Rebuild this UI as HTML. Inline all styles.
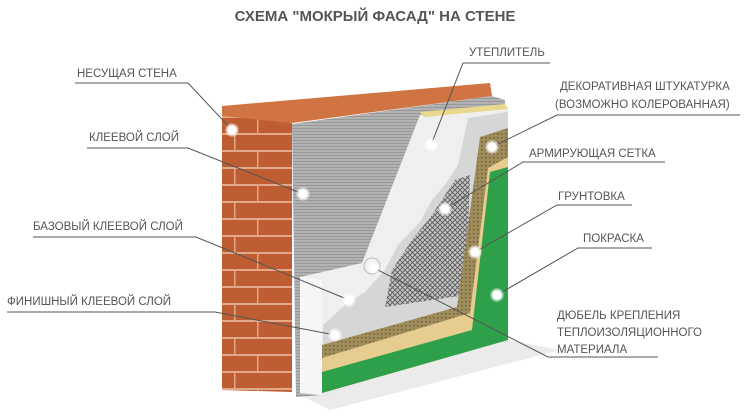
<!DOCTYPE html>
<html><head><meta charset="utf-8"><style>
html,body{margin:0;padding:0;background:#fff;}
svg{display:block;}
text{font-family:"Liberation Sans",sans-serif;fill:#555;}
</style></head><body>
<svg width="750" height="415" viewBox="0 0 750 415" xmlns="http://www.w3.org/2000/svg">
<defs>
<pattern id="brick" width="70" height="34" patternUnits="userSpaceOnUse" x="222" y="118">
<rect width="70" height="34" fill="#bd5d31"/>
<rect y="15" width="70" height="2" fill="#e2a88a"/>
<rect y="32" width="70" height="2" fill="#e2a88a"/>
<rect x="35" y="0" width="1.5" height="15" fill="#e2a88a"/>
<rect x="12" y="17" width="1.5" height="15" fill="#e2a88a"/>
</pattern>
<pattern id="glue" width="6" height="3" patternUnits="userSpaceOnUse">
<rect width="6" height="3" fill="#b2b2b2"/>
<rect y="2" width="6" height="1" fill="#989898"/>
</pattern>
<pattern id="mesh" width="5" height="5" patternUnits="userSpaceOnUse">
<rect width="5" height="5" fill="#c4c4c4"/>
<path d="M0 0L5 5M5 0L0 5" stroke="#555" stroke-width="0.8"/>
</pattern>
<pattern id="plaster" width="4" height="4" patternUnits="userSpaceOnUse">
<rect width="4" height="4" fill="#a08d5c"/>
<rect x="1" y="1" width="1.5" height="1.5" fill="#6e5f3a"/>
</pattern>
<radialGradient id="dot"><stop offset="0.55" stop-color="#fff"/><stop offset="1" stop-color="#fff" stop-opacity="0.2"/></radialGradient>
</defs>
<text x="375" y="21" text-anchor="middle" font-size="15" font-weight="bold" fill="#555">СХЕМА "МОКРЫЙ ФАСАД" НА СТЕНЕ</text>
<polygon points="300,395 508,340 560,350 330,410" fill="#ebebeb"/>
<polygon points="222,106 490,83 492,96 292,123 222,117" fill="#cf7442"/>
<polygon points="222,116 292,123 292,392 222,390" fill="url(#brick)"/>
<polygon points="292,124 492,96 505,100 505,340 320,395 296,397" fill="url(#glue)"/>
<polygon points="420,115 508,106 508,340 320,395 300,393 300,277 340,268 362,263" fill="#efefef"/>
<polygon points="300,277 322,280 322,395 300,393" fill="#f6f6f6"/>
<polygon points="420,112 505,104 508,109 424,117" fill="#e9d98e"/>
<polygon points="468,118 508,112 508,340 323,392 323,325 345,305 365,292 385,270 398,245 420,222 432,200 445,185 458,165" fill="#d6d6d6"/>
<polygon points="455,180 470,175 466,295 385,307 392,270 412,240 432,215 445,195" fill="url(#mesh)"/>
<polygon points="480,137 508,128 508,340 322,393 322,345 457,307" fill="url(#plaster)"/>
<polygon points="488,168 508,157 508,340 322,393 322,358 470,313" fill="#e6cc8f"/>
<polygon points="490,172 508,167 508,340 322,393 322,372 472,330" fill="#2ea04a"/>
<circle cx="372" cy="266" r="8" fill="#f2f2f2" stroke="#bbb"/>
<g stroke="#555" stroke-width="1" fill="none">
<polyline points="75,83 188,83 232,130"/>
<polyline points="87,148 188,148 303,194"/>
<polyline points="33,237 196,237 349,300"/>
<polyline points="7,312 215,312 335,335"/>
<polyline points="550,63 463,63 431,145"/>
<polyline points="740,115 557,115 492,147"/>
<polyline points="665,162 523,162 445,209"/>
<polyline points="632,205 557,205 475,252"/>
<polyline points="652,248 578,248 497,295"/>
<polyline points="658,357 548,357 374,268"/>
</g>
<g fill="url(#dot)">
<circle cx="232" cy="130" r="7"/><circle cx="303" cy="194" r="7"/>
<circle cx="349" cy="300" r="7"/><circle cx="335" cy="335" r="7"/>
<circle cx="431" cy="145" r="7"/><circle cx="492" cy="147" r="7"/>
<circle cx="445" cy="209" r="7"/><circle cx="475" cy="252" r="7"/>
<circle cx="497" cy="295" r="7"/><circle cx="374" cy="268" r="6"/>
</g>
<g font-size="11.5">
<text x="77" y="77">НЕСУЩАЯ СТЕНА</text>
<text x="89" y="141">КЛЕЕВОЙ СЛОЙ</text>
<text x="33" y="230">БАЗОВЫЙ КЛЕЕВОЙ СЛОЙ</text>
<text x="7" y="305">ФИНИШНЫЙ КЛЕЕВОЙ СЛОЙ</text>
<text x="469" y="56">УТЕПЛИТЕЛЬ</text>
<text x="560" y="90">ДЕКОРАТИВНАЯ ШТУКАТУРКА</text>
<text x="555" y="108">(ВОЗМОЖНО КОЛЕРОВАННАЯ)</text>
<text x="529" y="157">АРМИРУЮЩАЯ СЕТКА</text>
<text x="558" y="200">ГРУНТОВКА</text>
<text x="583" y="242">ПОКРАСКА</text>
<text x="557" y="319">ДЮБЕЛЬ КРЕПЛЕНИЯ</text>
<text x="557" y="336">ТЕПЛОИЗОЛЯЦИОННОГО</text>
<text x="557" y="353">МАТЕРИАЛА</text>
</g>
</svg>
</body></html>
